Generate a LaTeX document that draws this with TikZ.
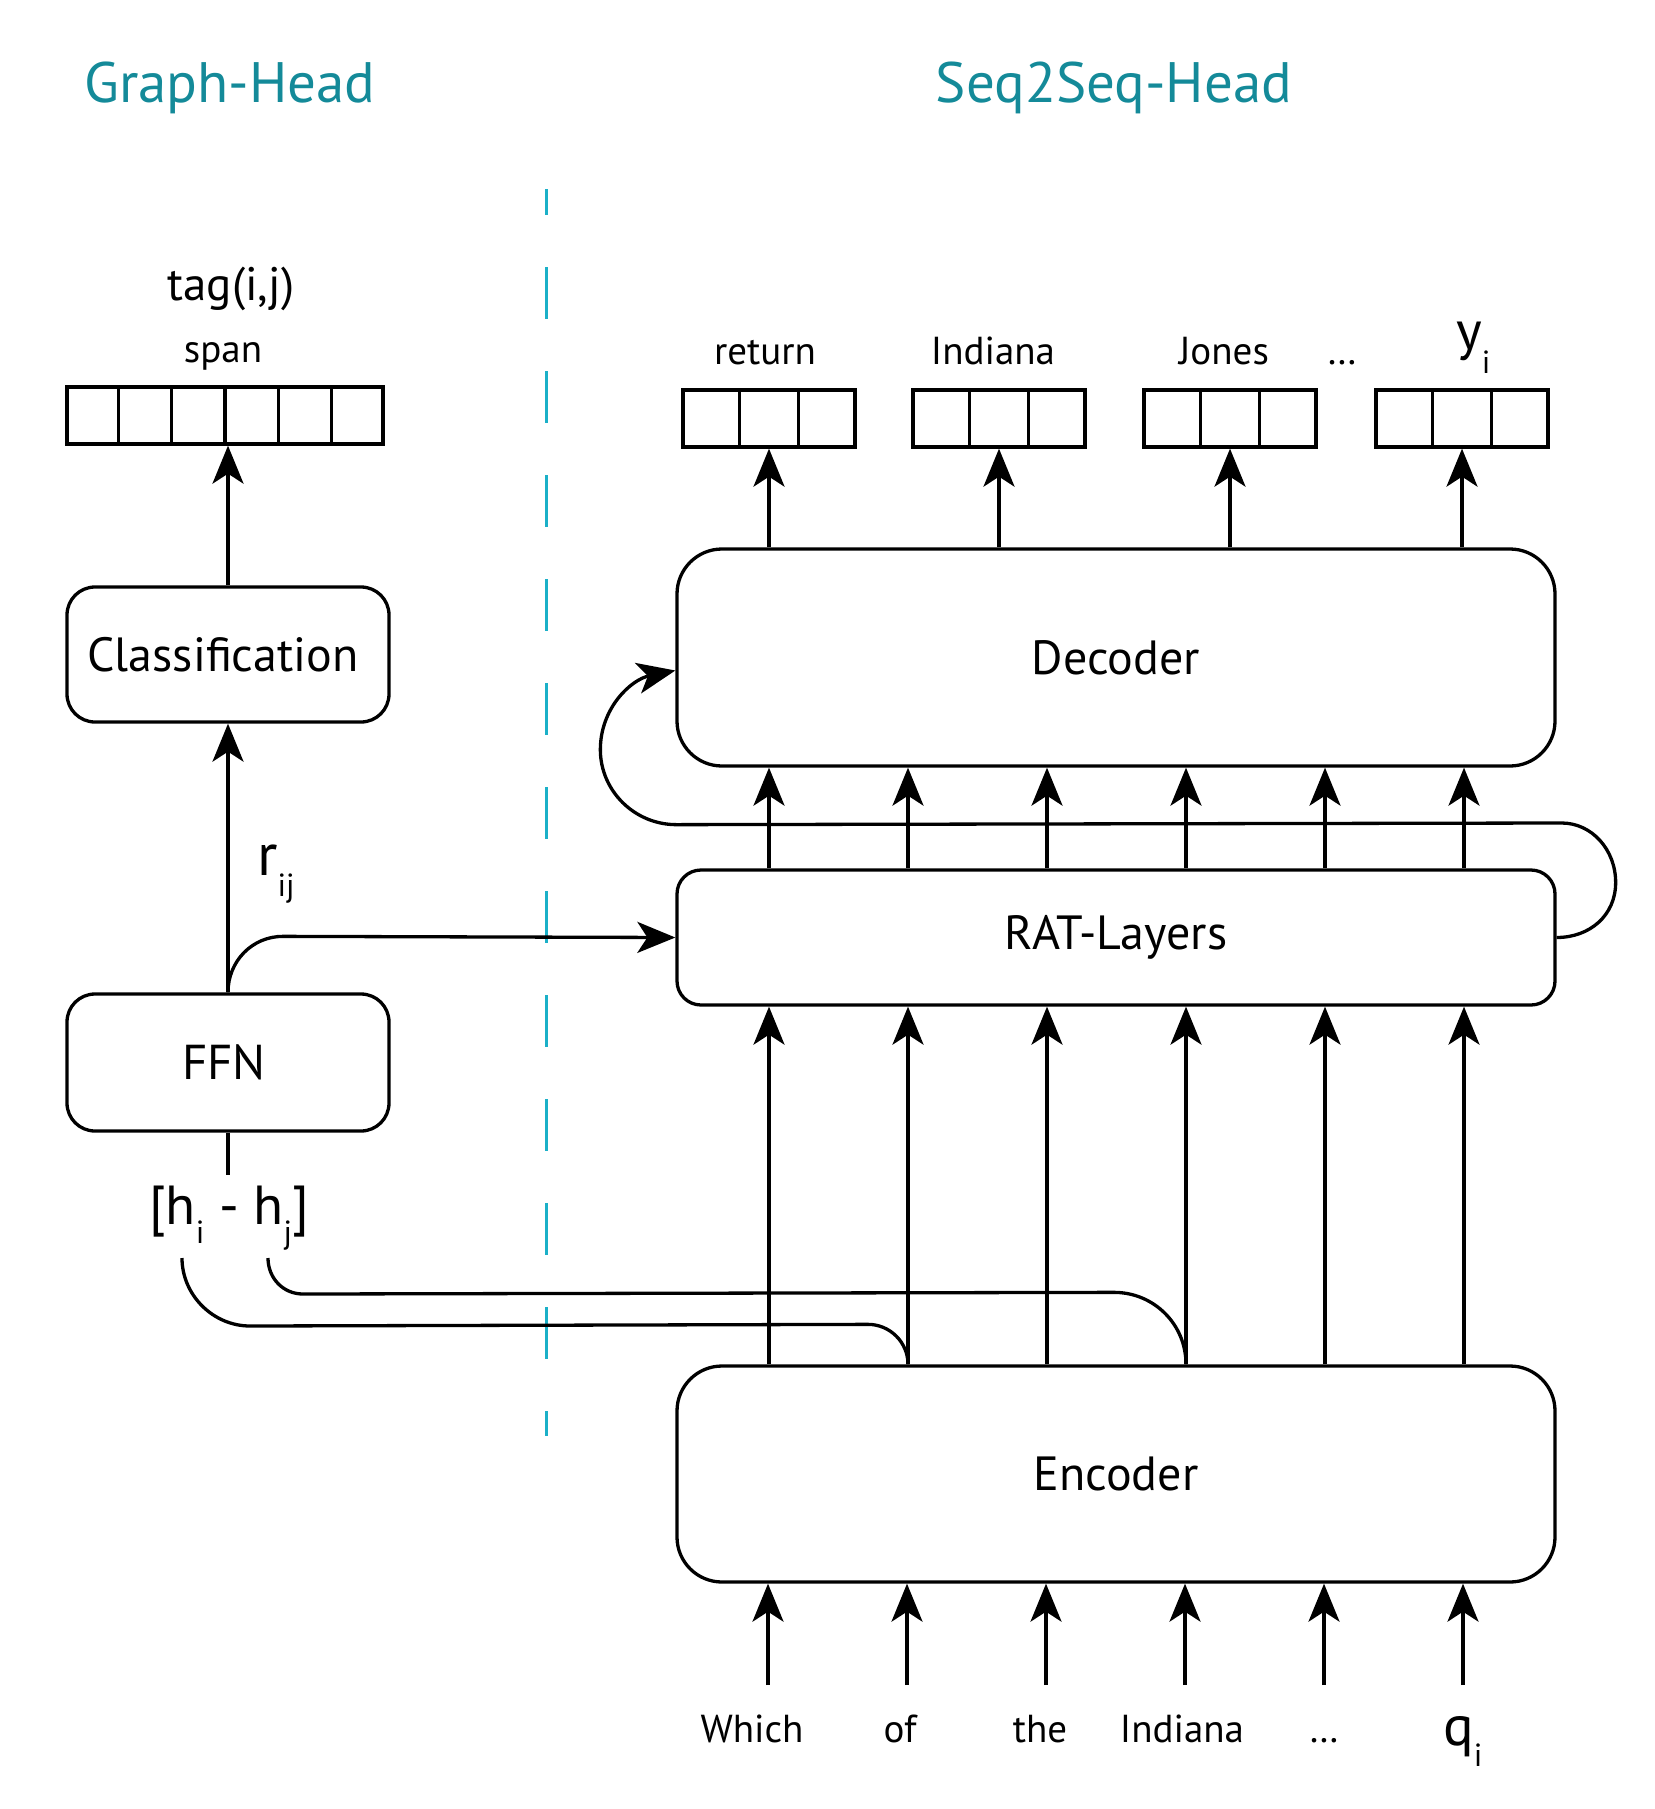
\documentclass[tikz,border=0pt]{standalone}
\usepackage{fontspec}
\setmainfont{PT Sans}
\usetikzlibrary{arrows.meta,calc}
\definecolor{headcol}{HTML}{148A99}
\definecolor{dashcol}{HTML}{1BB0C8}
\tikzset{
  lw/.style={line width=3.3pt},
  box/.style={draw, lw, inner sep=0pt, align=center},
  arr/.style={lw, -{Stealth[length=38pt,width=31pt,inset=10pt]}},
  conn/.style={lw},
  vec/.style={draw, lw, rectangle, inner sep=0pt, minimum width=172pt, minimum height=57pt},
  lbl/.style={inner sep=0pt, anchor=base, font=\fontsize{39}{39}\selectfont},
  head/.style={inner sep=0pt, anchor=base, text=headcol, font=\fontsize{57}{57}\selectfont},
}
\newcommand{\subtxt}[3]{\raisebox{-#1pt}{\fontsize{#2}{#2}\selectfont #3}}
\begin{document}
\begin{tikzpicture}[x=1pt,y=-1pt]
\useasboundingbox (0,0) rectangle (1654,1809);
% titles
\node[head] (gh) at (230,103) {Graph-Head};
\node[head] (sh) at (1114,103) {Seq2Seq-Head};
% dashed separator
\draw[dashcol, line width=3pt, dash pattern=on 52pt off 52pt, dash phase=26pt] (546,189) -- (546,1436);

% column coordinates
\coordinate (c1) at (769,0);
\coordinate (c2) at (908,0);
\coordinate (c3) at (1047,0);
\coordinate (c4) at (1186,0);
\coordinate (c5) at (1325,0);
\coordinate (c6) at (1464,0);

% boxes
\node[box, minimum width=322pt, minimum height=135pt, rounded corners=28pt, font=\fontsize{48}{48}\selectfont] (cls) at (228,654.5) {\hspace*{-10pt}Classification};
\node[box, minimum width=322pt, minimum height=137pt, rounded corners=28pt, font=\fontsize{49}{49}\selectfont] (ffn) at (228,1062.5) {\hspace*{-8pt}FFN};
\node[box, minimum width=878pt, minimum height=217pt, rounded corners=45pt, font=\fontsize{48}{48}\selectfont] (dec) at (1116,657.5) {Decoder};
\node[box, minimum width=878pt, minimum height=135pt, rounded corners=24pt, font=\fontsize{48}{48}\selectfont] (rat) at (1116,937.5) {RAT-Layers};
\node[box, minimum width=878pt, minimum height=216pt, rounded corners=45pt, font=\fontsize{48}{48}\selectfont] (enc) at (1116,1474) {Encoder};

% span vector
\node[vec, minimum width=316pt] (spanv) at (225,415.5) {};
\foreach \i in {1,...,5}
  \draw[lw] ($(spanv.north west)!\i/6!(spanv.north east)$) -- ($(spanv.south west)!\i/6!(spanv.south east)$);
% output vectors
\foreach \n/\x in {o1/769,o2/999,o3/1230,o4/1462}{
  \node[vec] (\n) at (\x,418.5) {};
  \foreach \i in {1,2}
    \draw[lw] ($(\n.north west)!\i/3!(\n.north east)$) -- ($(\n.south west)!\i/3!(\n.south east)$);
}

% labels
\node[inner sep=0pt, anchor=base, font=\fontsize{47}{47}\selectfont] (tag) at (231,300) {tag(i,j)};
\node[lbl] (spanl) at (223,362) {span};
\node[lbl] (l1) at (765,364) {return};
\node[lbl] (l2) at (993,364) {Indiana};
\node[lbl] (l3) at (1224,364) {Jones};
\node[lbl] (l4) at (1342,364) {…};
\node[inner sep=0pt, anchor=base west] (l5) at (1456,349) {\fontsize{55}{55}\selectfont y\subtxt{24}{32}{i}};

\node[inner sep=0pt, anchor=base west] (rij) at (257,875) {\fontsize{60}{60}\selectfont r\subtxt{21}{32}{ij}};
\node[inner sep=0pt, anchor=base] (hh) at (229,1224) {\fontsize{55}{55}\selectfont [h\subtxt{19}{32}{i} - h\subtxt{19}{32}{j}]};

% input words
\node[lbl] (w1) at (752,1742) {Which};
\node[lbl] (w2) at (900,1742) {of};
\node[lbl] (w3) at (1040,1742) {the};
\node[lbl] (w4) at (1182,1742) {Indiana};
\node[lbl] (w5) at (1324,1742) {…};
\node[inner sep=0pt, anchor=base west] (w6) at (1443,1745) {\fontsize{57}{57}\selectfont q\subtxt{21}{32}{i}};

% graph head connectors
\draw[arr] (cls.north) -- (cls.north |- spanv.south);
\draw[arr] (ffn.north) -- (cls.south);
\draw[arr] (ffn.north) .. controls +(0,-31) and +(-31,0) .. ($(ffn.north)+(55,-56)$) -- (rat.west);
\draw[conn] (ffn.south) -- ++(0,42);

% h_i and h_j connectors
\coordinate (hi) at (182,1258);
\coordinate (hj) at (268,1258);
\draw[conn] (hi) .. controls +(0,37) and +(-37,0) .. ++(68,68) -- ($(enc.north -| c2)+(-40,-40)$) .. controls +(22,0) and +(0,-22) .. (enc.north -| c2);
\draw[conn] (hj) .. controls +(0,20) and +(-20,0) .. ++(35,36) -- ($(enc.north -| c4)+(-72,-72)$) .. controls +(40,0) and +(0,-40) .. (enc.north -| c4);

% encoder -> RAT, RAT -> decoder
\foreach \c in {c1,c2,c3,c4,c5,c6}{
  \draw[arr] (enc.north -| \c) -- (rat.south -| \c);
  \draw[arr] (rat.north -| \c) -- (dec.south -| \c);
}
% decoder -> outputs
\foreach \n in {o1,o2,o3,o4}
  \draw[arr] (dec.north -| \n) -- (\n.south);

% inputs -> encoder
\foreach \c in {c1,c2,c3,c4,c5,c6}{
  \coordinate (i\c) at ($(\c)+(-1,1685)$);
  \draw[arr] (i\c) -- (enc.south -| i\c);
}

% recurrent loop RAT -> decoder
\draw[arr] (rat.east) .. controls +(33,0) and +(0,33) .. ++(59,-55)
  .. controls +(0,-33) and +(30,0) .. ++(-54,-59.5)
  -- ($(dec.south west)+(1,57)$)
  .. controls +(-42,0) and +(0,41) .. ++(-76,-75)
  .. controls +(0,-42) and +(-44,9) .. ($(dec.west)+(0,13)$);
\end{tikzpicture}
\end{document}
